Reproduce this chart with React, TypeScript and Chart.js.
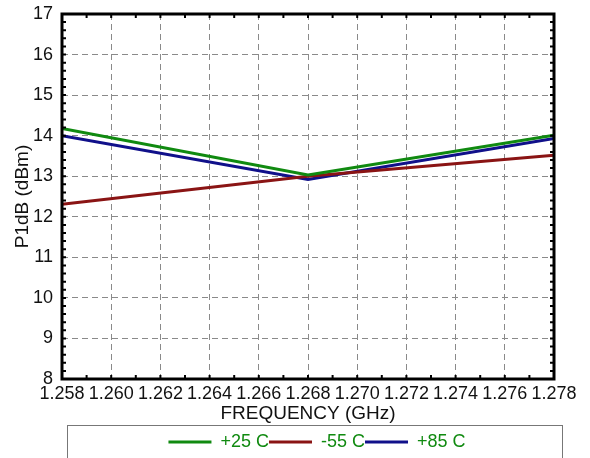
import React, { useEffect, useRef } from 'react';
import { Chart, registerables } from 'chart.js';

Chart.register(...registerables);

const frequencies = [1.258, 1.268, 1.278];
const plus25 = [14.18, 13.03, 14.01];
const minus55 = [12.31, 13.0, 13.52];
const plus85 = [14.0, 12.92, 13.93];

const seriesNames = ['+25 C', '-55 C', '+85 C'];
const seriesColors = ['#108a10', '#8a1414', '#10108a'];

const xTickLabels = ['1.258', '1.260', '1.262', '1.264', '1.266', '1.268', '1.270', '1.272', '1.274', '1.276', '1.278'];
const yTickLabels = ['8', '9', '10', '11', '12', '13', '14', '15', '16', '17'];

const xTitle = 'FREQUENCY (GHz)';
const yTitle = 'P1dB (dBm)';

const FONT = "'Liberation Sans', Arial, Helvetica, sans-serif";
const LEGEND_SHIFT = 9;

const framePlugin = {
  id: 'frame',
  afterLayout(chart: any) {
    const l = chart.legend;
    if (l) {
      l.left += LEGEND_SHIFT;
      l.right += LEGEND_SHIFT;
    }
  },
  afterDatasetsDraw(chart: any) {
    const { ctx, chartArea: a, scales } = chart;
    const xs = scales.x;
    const ys = scales.y;
    ctx.save();
    ctx.strokeStyle = '#000';
    ctx.lineWidth = 2;
    const tl = 4;
    const xStep = 0.001;
    const nx = Math.round((xs.max - xs.min) / xStep);
    for (let i = 0; i <= nx; i++) {
      const px = xs.getPixelForValue(xs.min + i * xStep);
      ctx.beginPath();
      ctx.moveTo(px, a.bottom);
      ctx.lineTo(px, a.bottom - tl);
      ctx.moveTo(px, a.top);
      ctx.lineTo(px, a.top + tl);
      ctx.stroke();
    }
    const yStep = 0.2;
    const ny = Math.round((ys.max - ys.min) / yStep);
    for (let i = 0; i <= ny; i++) {
      const py = ys.getPixelForValue(ys.min + i * yStep);
      ctx.beginPath();
      ctx.moveTo(a.left, py);
      ctx.lineTo(a.left + tl, py);
      ctx.moveTo(a.right, py);
      ctx.lineTo(a.right - tl, py);
      ctx.stroke();
    }
    ctx.lineWidth = 3;
    ctx.strokeRect(a.left, a.top, a.right - a.left, a.bottom - a.top);
    const l = chart.legend;
    if (l) {
      ctx.lineWidth = 1;
      ctx.strokeStyle = '#777';
      ctx.strokeRect(Math.round(l.left + 5 - LEGEND_SHIFT) + 0.5, Math.round(l.top) + 0.5, l.width + 3, chart.height);
    }
    ctx.restore();
  },
};

export default function App() {
  const ref = useRef<HTMLCanvasElement | null>(null);

  useEffect(() => {
    document.body.style.margin = '0';
    document.body.style.overflow = 'hidden';
    const canvas = ref.current;
    if (!canvas) return;
    const chart = new Chart(canvas, {
      type: 'line',
      data: {
        datasets: [plus25, minus55, plus85].map((vals, i) => ({
          label: seriesNames[i],
          data: frequencies.map((f, j) => ({ x: f, y: vals[j] })),
          borderColor: seriesColors[i],
          backgroundColor: seriesColors[i],
          borderWidth: 3,
          pointRadius: 0,
          tension: 0,
        })),
      },
      options: {
        responsive: false,
        animation: false,
        layout: { padding: { top: 14, right: 36, left: 0, bottom: 9 } },
        scales: {
          x: {
            type: 'linear',
            min: 1.258,
            max: 1.278,
            afterBuildTicks: (s: any) => {
              s.ticks = xTickLabels.map((t) => ({ value: parseFloat(t) }));
            },
            afterFit: (s: any) => {
              s.height = 46;
              s.paddingLeft = 0;
              s.paddingRight = 0;
            },
            ticks: {
              autoSkip: false,
              maxRotation: 0,
              minRotation: 0,
              padding: 4,
              color: '#111',
              font: { family: FONT, size: 18 },
              callback: (_v: any, i: number) => xTickLabels[i],
            },
            grid: {
              drawTicks: false,
              color: '#8a8a8a',
              lineWidth: 1,
            },
            border: { display: false, dash: [6, 4] },
            title: {
              display: true,
              text: xTitle,
              color: '#111',
              font: { family: FONT, size: 19 },
              padding: { top: 0, bottom: 0 },
            },
          },
          y: {
            type: 'linear',
            min: 8,
            max: 17,
            afterBuildTicks: (s: any) => {
              s.ticks = yTickLabels.map((t) => ({ value: parseFloat(t) }));
            },
            afterFit: (s: any) => {
              s.width = 62;
              s.paddingTop = 0;
              s.paddingBottom = 0;
            },
            ticks: {
              padding: 9,
              color: '#111',
              font: { family: FONT, size: 18 },
              callback: (_v: any, i: number) => yTickLabels[i],
            },
            grid: {
              drawTicks: false,
              color: '#8a8a8a',
              lineWidth: 1,
            },
            border: { display: false, dash: [6, 4] },
            title: {
              display: true,
              text: yTitle,
              color: '#111',
              font: { family: FONT, size: 19 },
              padding: { top: 11, bottom: 0 },
            },
          },
        },
        plugins: {
          tooltip: { enabled: false },
          legend: {
            display: true,
            position: 'bottom',
            fullSize: false,
            title: {
              display: true,
              text: '',
              font: { size: 1, lineHeight: 1 },
              padding: { top: 7, bottom: 0 },
            },
            labels: {
              boxWidth: 43,
              boxHeight: 3,
              padding: 0,
              color: '#108a10',
              font: { family: FONT, size: 18 },
              generateLabels: (c: any) => {
                const items = Chart.defaults.plugins.legend.labels.generateLabels(c);
                return items.map((it: any) => ({ ...it, lineWidth: 0 }));
              },
            },
          },
        },
      },
      plugins: [framePlugin],
    } as any);
    return () => chart.destroy();
  }, []);

  return (
    <div style={{ width: 590, height: 470 }}>
      <canvas ref={ref} width={590} height={470} />
    </div>
  );
}
